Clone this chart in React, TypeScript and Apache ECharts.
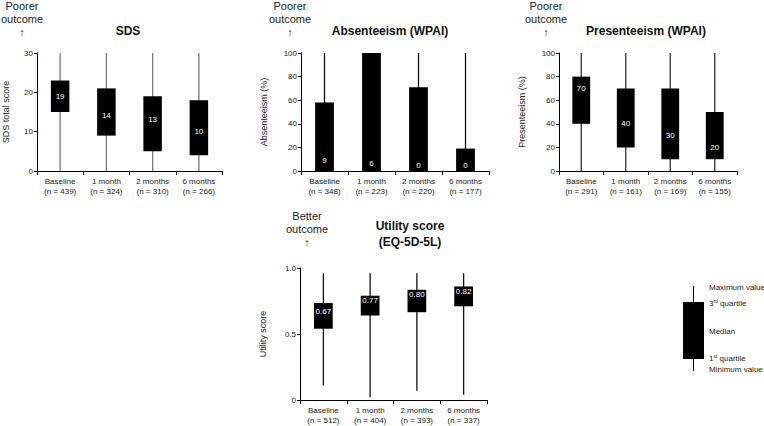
import React, { useEffect, useRef } from "react";
import * as echarts from "echarts";

const FONT = "'Liberation Sans', Arial, sans-serif";

const timepoints = ["Baseline", "1 month", "2 months", "6 months"];

// SDS total score
const sdsN = [439, 324, 310, 266];
const sdsMin = [0, 0, 0, 0];
const sdsQ1 = [15, 9, 5, 4];
const sdsMedian = [19, 14, 13, 10];
const sdsQ3 = [23, 21, 19, 18];
const sdsMax = [30, 30, 30, 30];

// Absenteeism (WPAI), %
const absN = [348, 223, 220, 177];
const absMin = [0, 0, 0, 0];
const absQ1 = [0, 0, 0, 0];
const absMedian = [9, 6, 0, 0];
const absQ3 = [58, 100, 71, 19];
const absMax = [100, 100, 100, 100];

// Presenteeism (WPAI), %
const presN = [291, 161, 169, 155];
const presMin = [0, 0, 0, 0];
const presQ1 = [40, 20, 10, 10];
const presMedian = [70, 40, 30, 20];
const presQ3 = [80, 70, 70, 50];
const presMax = [100, 100, 100, 100];

// Utility score (EQ-5D-5L)
const utilN = [512, 404, 393, 337];
const utilMin = [0.11, 0.02, 0.07, 0.04];
const utilQ1 = [0.54, 0.64, 0.665, 0.71];
const utilMedian = [0.67, 0.77, 0.8, 0.82];
const utilQ3 = [0.735, 0.79, 0.835, 0.86];
const utilMax = [0.96, 0.96, 0.96, 0.96];

const sdsTicks = { min: 0, max: 30, interval: 10 };
const pctTicks = { min: 0, max: 100, interval: 20 };
const utilTicks = { min: 0, max: 1, interval: 0.5 };

type Panel = {
  grid: { left: number; top: number; width: number; height: number };
  n: number[];
  min: number[];
  q1: number[];
  med: number[];
  q3: number[];
  max: number[];
  ticks: { min: number; max: number; interval: number };
  yName: string;
  nameGap: number;
  whisker: string;
  fmt: (v: number) => string;
  yFmt: (v: number) => string;
};

const panels: Panel[] = [
  {
    grid: { left: 36, top: 53, width: 186, height: 118 },
    n: sdsN, min: sdsMin, q1: sdsQ1, med: sdsMedian, q3: sdsQ3, max: sdsMax,
    ticks: sdsTicks, yName: "SDS total score", nameGap: 27, whisker: "#777",
    fmt: (v) => String(v), yFmt: (v) => String(v),
  },
  {
    grid: { left: 301, top: 53, width: 188, height: 118 },
    n: absN, min: absMin, q1: absQ1, med: absMedian, q3: absQ3, max: absMax,
    ticks: pctTicks, yName: "Absenteeism (%)", nameGap: 33, whisker: "#111",
    fmt: (v) => String(v), yFmt: (v) => String(v),
  },
  {
    grid: { left: 559, top: 53, width: 178, height: 118 },
    n: presN, min: presMin, q1: presQ1, med: presMedian, q3: presQ3, max: presMax,
    ticks: pctTicks, yName: "Presenteeism (%)", nameGap: 33, whisker: "#333",
    fmt: (v) => String(v), yFmt: (v) => String(v),
  },
  {
    grid: { left: 300, top: 268, width: 187, height: 132 },
    n: utilN, min: utilMin, q1: utilQ1, med: utilMedian, q3: utilQ3, max: utilMax,
    ticks: utilTicks, yName: "Utility score", nameGap: 33, whisker: "#111",
    fmt: (v) => v.toFixed(2), yFmt: (v) => (v === 0 ? "0" : v.toFixed(1)),
  },
];

function makeRender(p: Panel) {
  return (params: any, api: any) => {
    const x = api.value(0);
    const pMin = api.coord([x, api.value(1)]);
    const pQ1 = api.coord([x, api.value(2)]);
    const med = api.value(3);
    const pMed = api.coord([x, med]);
    const pQ3 = api.coord([x, api.value(4)]);
    const pMax = api.coord([x, api.value(5)]);
    const w = api.size([1, 0])[0] * 0.4;
    let ly = pMed[1];
    ly = Math.min(ly, pQ1[1] - 5.5);
    ly = Math.max(ly, pQ3[1] + 5);
    return {
      type: "group",
      children: [
        {
          type: "line",
          shape: { x1: pMin[0], y1: pMin[1], x2: pMax[0], y2: pMax[1] },
          style: { stroke: p.whisker, lineWidth: 1.3 },
        },
        {
          type: "rect",
          shape: { x: pQ1[0] - w / 2, y: pQ3[1], width: w, height: pQ1[1] - pQ3[1] },
          style: { fill: "#000" },
        },
        {
          type: "text",
          x: pMed[0],
          y: ly,
          style: {
            text: p.fmt(med),
            fill: "#fff",
            fontSize: 8,
            fontFamily: FONT,
            align: "center",
            verticalAlign: "middle",
          },
        },
      ],
    };
  };
}

export default function App() {
  const ref = useRef<HTMLDivElement>(null);
  useEffect(() => {
    if (!ref.current) return;
    const chart = echarts.init(ref.current, undefined, { renderer: "svg" });

    const grids = panels.map((p) => ({ ...p.grid, containLabel: false }));
    const xAxes = panels.map((p, i) => ({
      type: "category",
      gridIndex: i,
      data: timepoints.map((t, j) => `${t}\n(n = ${p.n[j]})`),
      axisLine: { lineStyle: { color: "#000", width: 1 } },
      axisTick: { show: true, length: 4, lineStyle: { color: "#000" } },
      axisLabel: { fontSize: 8, lineHeight: 10, color: "#222", fontFamily: FONT, margin: 5, interval: 0 },
    }));
    const yAxes = panels.map((p, i) => ({
      type: "value",
      gridIndex: i,
      min: p.ticks.min,
      max: p.ticks.max,
      interval: p.ticks.interval,
      name: p.yName,
      nameLocation: "middle",
      nameGap: p.nameGap,
      nameRotate: 90,
      nameTextStyle: { fontSize: 9, color: "#222", fontFamily: FONT },
      splitLine: { show: false },
      axisLine: { show: true, lineStyle: { color: "#000", width: 1 } },
      axisTick: { show: true, length: 3, lineStyle: { color: "#000" } },
      axisLabel: { fontSize: 8, color: "#222", fontFamily: FONT, margin: 4, formatter: p.yFmt },
    }));
    const series = panels.map((p, i) => ({
      type: "custom",
      xAxisIndex: i,
      yAxisIndex: i,
      renderItem: makeRender(p),
      encode: { x: 0, y: [1, 2, 3, 4, 5] },
      data: timepoints.map((_, j) => [j, p.min[j], p.q1[j], p.med[j], p.q3[j], p.max[j]]),
    }));

    const note = (x: number, y: number, t: string) => ({
      type: "text",
      x,
      y,
      style: { text: t, fontSize: 11, lineHeight: 13, fill: "#222", fontFamily: FONT, align: "center", verticalAlign: "top" },
    });
    const title = (x: number, y: number, t: string) => ({
      type: "text",
      x,
      y,
      style: { text: t, fontSize: 12, lineHeight: 16, fontWeight: "bold", fill: "#111", fontFamily: FONT, align: "center", verticalAlign: "middle" },
    });
    const legText = (y: number, t: string) => ({
      type: "text",
      x: 709,
      y,
      style: {
        text: t,
        fontSize: 8,
        fill: "#222",
        fontFamily: FONT,
        align: "left",
        verticalAlign: "middle",
        rich: { sup: { fontSize: 5, padding: [0, 0, 4, 0], fill: "#222", fontFamily: FONT } },
      },
    });

    chart.setOption({
      animation: false,
      grid: grids,
      xAxis: xAxes,
      yAxis: yAxes,
      series,
      graphic: [
        note(22, -1, "Poorer\noutcome\n↑"),
        note(290, -1, "Poorer\noutcome\n↑"),
        note(546, -1, "Poorer\noutcome\n↑"),
        note(307, 209, "Better\noutcome\n↑"),
        title(128, 31, "SDS"),
        title(390, 31, "Absenteeism (WPAI)"),
        title(646, 31, "Presenteeism (WPAI)"),
        title(410, 226, "Utility score"),
        title(410, 242, "(EQ-5D-5L)"),
        { type: "line", shape: { x1: 693.5, y1: 286, x2: 693.5, y2: 371 }, style: { stroke: "#000", lineWidth: 1 } },
        { type: "rect", shape: { x: 683, y: 302, width: 21, height: 57 }, style: { fill: "#000" } },
        legText(287, "Maximum value"),
        legText(303, "3{sup|rd} quartile"),
        legText(331, "Median"),
        legText(358, "1{sup|st} quartile"),
        legText(369, "Minimum value"),
      ],
    });
    return () => chart.dispose();
  }, []);
  return <div ref={ref} style={{ position: "absolute", left: 0, top: 0, width: 764, height: 426 }} />;
}
